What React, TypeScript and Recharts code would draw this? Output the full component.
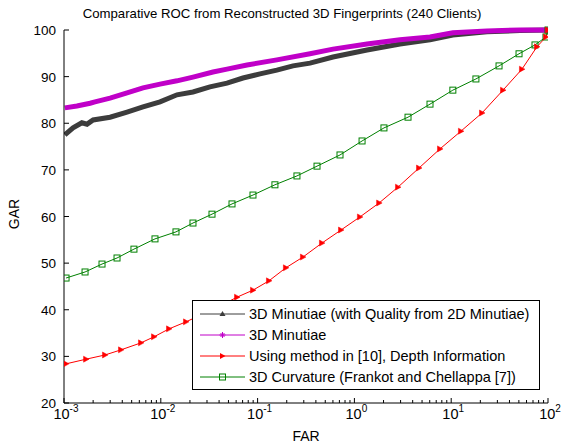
import React from 'react';
import { LineChart, Line, XAxis, YAxis } from 'recharts';

// ---- data (FAR in %, GAR in %) ----
const blackFar = [0.00102, 0.00124, 0.00153, 0.00173, 0.002, 0.00299, 0.00448, 0.00655, 0.00982, 0.0147, 0.0215, 0.0322, 0.0483, 0.0706, 0.106, 0.158, 0.232, 0.348, 0.601, 1.35, 2.96, 6.04, 10.4, 23.4, 51.4, 100];
const blackGar = [77.5, 79.0, 80.1, 79.8, 80.7, 81.3, 82.4, 83.5, 84.6, 86.1, 86.7, 87.8, 88.6, 89.7, 90.6, 91.4, 92.3, 92.9, 94.2, 95.7, 97.0, 97.9, 98.9, 99.6, 99.9, 100];

const magFar = [0.00102, 0.00136, 0.00186, 0.00209, 0.00299, 0.00448, 0.00655, 0.00982, 0.0147, 0.0215, 0.0346, 0.0483, 0.0778, 0.158, 0.348, 0.601, 1.35, 2.96, 6.04, 10.4, 23.4, 51.4, 100];
const magGar = [83.3, 83.7, 84.3, 84.6, 85.4, 86.5, 87.6, 88.4, 89.1, 89.9, 91.0, 91.6, 92.5, 93.6, 94.9, 95.9, 97.0, 97.9, 98.5, 99.4, 99.8, 100, 100];

const redFar = [0.00105, 0.00169, 0.00265, 0.00388, 0.00624, 0.00851, 0.01216, 0.0182, 0.0273, 0.0409, 0.0613, 0.0896, 0.131, 0.196, 0.294, 0.462, 0.727, 1.14, 1.80, 2.82, 4.65, 7.66, 12.6, 20.8, 34.3, 53.8, 76.9, 95.3, 100];
const redGar = [28.4, 29.4, 30.3, 31.4, 32.9, 34.2, 35.9, 37.4, 39.1, 40.8, 42.7, 44.2, 46.2, 49.0, 51.3, 54.3, 57.1, 59.9, 62.9, 66.3, 70.4, 74.5, 78.3, 82.2, 87.1, 91.6, 96.4, 98.5, 100];

const greenFar = [0.00105, 0.00165, 0.00247, 0.00353, 0.00528, 0.00871, 0.01435, 0.0215, 0.0338, 0.0544, 0.0896, 0.151, 0.255, 0.411, 0.710, 1.20, 2.02, 3.58, 6.04, 10.4, 18.0, 31.2, 50.2, 73.4, 95.3, 100];
const greenGar = [46.8, 48.1, 49.8, 51.1, 53.0, 55.2, 56.7, 58.6, 60.5, 62.7, 64.6, 66.8, 68.7, 70.8, 73.2, 76.2, 79.0, 81.3, 84.1, 87.1, 89.5, 92.3, 94.9, 96.8, 98.5, 100];

const seriesNames = [
  '3D Minutiae (with Quality from 2D Minutiae)',
  '3D Minutiae',
  'Using method in [10], Depth Information',
  '3D Curvature (Frankot and Chellappa [7])',
];
const seriesColors = ['#3c3c3c', '#c000c8', '#ff0000', '#008000'];

const xMajorTicks = [0.001, 0.01, 0.1, 1, 10, 100];
const xMinorMult = [2, 3, 4, 5, 6, 7, 8, 9];
const yTicks = [20, 30, 40, 50, 60, 70, 80, 90, 100];

const title = 'Comparative ROC from Reconstructed 3D Fingerprints (240 Clients)';
const xLabel = 'FAR';
const yLabel = 'GAR';

const zip = (xs: number[], ys: number[]) => xs.map((x, i) => ({ x, y: ys[i] }));
const blackData = zip(blackFar, blackGar);
const magData = zip(magFar, magGar);
const redData = zip(redFar, redGar);
const greenData = zip(greenFar, greenGar);

const xAllTicks: number[] = [];
xMajorTicks.forEach((m, i) => {
  xAllTicks.push(m);
  if (i < xMajorTicks.length - 1) xMinorMult.forEach((k) => xAllTicks.push(+(m * k).toPrecision(6)));
});

const FONT = '"Liberation Sans", Arial, sans-serif';
const isMajor = (v: number) => Math.abs(Math.log10(v) - Math.round(Math.log10(v))) < 1e-6;

const BottomTick = (props: any) => {
  const { x, y, payload } = props;
  const v = payload.value;
  const major = isMajor(v);
  const exp = Math.round(Math.log10(v));
  return (
    <g>
      <line x1={x} x2={x} y1={y} y2={y - (major ? 5 : 3)} stroke="#000" />
      {major && (
        <text x={x + 2} y={y + 16} textAnchor="middle" fontSize={14.5} fontFamily={FONT} fill="#000">
          <tspan>10</tspan>
          <tspan dy={-7} fontSize={10}>{exp}</tspan>
        </text>
      )}
    </g>
  );
};

const TopTick = (props: any) => {
  const { x, y, payload } = props;
  const major = isMajor(payload.value);
  return <line x1={x} x2={x} y1={y} y2={y + (major ? 5 : 3)} stroke="#000" />;
};

const LeftTick = (props: any) => {
  const { x, y, payload } = props;
  return (
    <g>
      <line x1={x} x2={x + 5} y1={y} y2={y} stroke="#000" />
      <text x={x - 8} y={y + 5} textAnchor="end" fontSize={13.5} fontFamily={FONT} fill="#000">
        {payload.value}
      </text>
    </g>
  );
};

const RightTick = (props: any) => {
  const { x, y } = props;
  return <line x1={x} x2={x - 5} y1={y} y2={y} stroke="#000" />;
};

const RedDot = (props: any) => {
  const { cx, cy, index } = props;
  if (cx == null || cy == null) return <g key={index} />;
  return (
    <path key={index} d={`M${cx - 2.5},${cy - 3}L${cx + 3},${cy}L${cx - 2.5},${cy + 3}Z`} fill="#ff0000" stroke="#ff0000" strokeWidth={0.5} />
  );
};

const GreenDot = (props: any) => {
  const { cx, cy, index } = props;
  if (cx == null || cy == null) return <g key={index} />;
  return <rect key={index} x={cx - 3} y={cy - 3} width={6} height={6} fill="none" stroke="#008000" strokeWidth={1} />;
};

const markerFor = (i: number, cx: number, cy: number) => {
  if (i === 0) return <path d={`M${cx},${cy - 3}L${cx + 3},${cy + 2}L${cx - 3},${cy + 2}Z`} fill="#3c3c3c" />;
  if (i === 1)
    return (
      <g stroke="#c000c8" strokeWidth={1}>
        <line x1={cx - 3} x2={cx + 3} y1={cy} y2={cy} />
        <line x1={cx} x2={cx} y1={cy - 3} y2={cy + 3} />
        <line x1={cx - 2} x2={cx + 2} y1={cy - 2} y2={cy + 2} />
        <line x1={cx - 2} x2={cx + 2} y1={cy + 2} y2={cy - 2} />
      </g>
    );
  if (i === 2) return <path d={`M${cx - 2.5},${cy - 3}L${cx + 3},${cy}L${cx - 2.5},${cy + 3}Z`} fill="#ff0000" />;
  return <rect x={cx - 3} y={cy - 3} width={6} height={6} fill="none" stroke="#008000" />;
};

export default function App() {
  return (
    <div style={{ position: 'absolute', left: 0, top: 0, width: 566, height: 447, background: '#fff', fontFamily: FONT }}>
      <LineChart width={566} height={447} margin={{ top: 30, right: 18, bottom: 14, left: 24 }}>
        <XAxis
          xAxisId="b"
          dataKey="x"
          type="number"
          scale="log"
          domain={[0.001, 100]}
          allowDataOverflow
          ticks={xAllTicks}
          interval={0}
          tickSize={0}
          tickMargin={0}
          tick={<BottomTick />}
          axisLine={{ stroke: '#000' }}
          height={30}
        />
        <XAxis
          xAxisId="t"
          orientation="top"
          dataKey="x"
          type="number"
          scale="log"
          domain={[0.001, 100]}
          allowDataOverflow
          ticks={xAllTicks}
          interval={0}
          tickSize={0}
          tickMargin={0}
          tick={<TopTick />}
          axisLine={{ stroke: '#000' }}
          height={0}
        />
        <YAxis
          yAxisId="l"
          type="number"
          domain={[20, 100]}
          ticks={yTicks}
          interval={0}
          tickSize={0}
          tickMargin={0}
          tick={<LeftTick />}
          axisLine={{ stroke: '#000' }}
          width={40}
        />
        <YAxis
          yAxisId="r"
          orientation="right"
          type="number"
          domain={[20, 100]}
          ticks={yTicks}
          interval={0}
          tickSize={0}
          tickMargin={0}
          tick={<RightTick />}
          axisLine={{ stroke: '#000' }}
          width={0}
        />
        <Line xAxisId="b" yAxisId="l" data={greenData} dataKey="y" name={seriesNames[3]} stroke={seriesColors[3]} strokeWidth={1} dot={<GreenDot />} isAnimationActive={false} />
        <Line xAxisId="b" yAxisId="l" data={redData} dataKey="y" name={seriesNames[2]} stroke={seriesColors[2]} strokeWidth={1} dot={<RedDot />} isAnimationActive={false} />
        <Line xAxisId="b" yAxisId="l" data={blackData} dataKey="y" name={seriesNames[0]} stroke={seriesColors[0]} strokeWidth={5} dot={false} isAnimationActive={false} />
        <Line xAxisId="b" yAxisId="l" data={magData} dataKey="y" name={seriesNames[1]} stroke={seriesColors[1]} strokeWidth={5} dot={false} isAnimationActive={false} />
      </LineChart>

      <div style={{ position: 'absolute', left: 0, top: 6, width: 564, textAlign: 'center', fontSize: 13.2, color: '#000', whiteSpace: 'nowrap' }}>
        {title}
      </div>
      <div style={{ position: 'absolute', left: 256, top: 428, width: 100, textAlign: 'center', fontSize: 14 }}>{xLabel}</div>
      <div style={{ position: 'absolute', left: -36, top: 206, width: 100, textAlign: 'center', fontSize: 14, transform: 'rotate(-90deg)' }}>{yLabel}</div>

      <div style={{ position: 'absolute', left: 192, top: 300, width: 346, height: 88, border: '1px solid #000', background: '#fff' }}>
        {seriesNames.map((n, i) => (
          <div key={n} style={{ position: 'absolute', left: 0, top: 3 + i * 21, height: 20, display: 'flex', alignItems: 'center' }}>
            <svg width={56} height={20} style={{ display: 'block' }}>
              <line x1={7} x2={52} y1={10} y2={10} stroke={seriesColors[i]} strokeWidth={1} />
              {markerFor(i, 29.5, 10)}
            </svg>
            <span style={{ fontSize: 14.5, whiteSpace: 'nowrap', color: '#000' }}>{n}</span>
          </div>
        ))}
      </div>
    </div>
  );
}
